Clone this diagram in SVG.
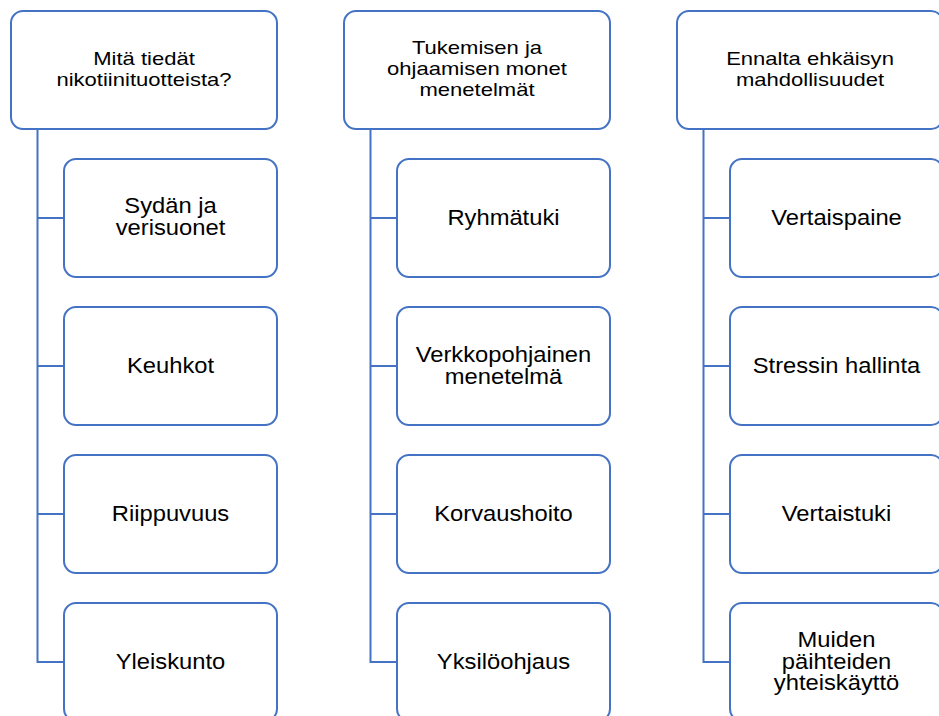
<svg xmlns="http://www.w3.org/2000/svg" width="939" height="716" viewBox="0 0 939 716">
<style>
.box{fill:#fff;stroke:#4472C4;stroke-width:2}
.conn{fill:none;stroke:#4472C4;stroke-width:2}
.h{font-family:"Liberation Sans",Arial,sans-serif;font-size:19px;fill:#000;text-anchor:middle}
.c{font-family:"Liberation Sans",Arial,sans-serif;font-size:22px;fill:#000;text-anchor:middle}
</style>
<rect width="939" height="716" fill="#fff"/>
<g id="connectors">
<path class="conn" d="M37.5,129V662H64M37.5,218H64M37.5,366H64M37.5,514H64"/>
<path class="conn" d="M370.5,129V662H397M370.5,218H397M370.5,366H397M370.5,514H397"/>
<path class="conn" d="M703.5,129V662H730M703.5,218H730M703.5,366H730M703.5,514H730"/>
</g>
<g id="h1"><rect class="box" x="11" y="11" width="266" height="118" rx="12"/>
<text class="h" transform="translate(144,0) scale(1.16,1)"><tspan x="0" y="65">Mitä tiedät</tspan><tspan x="0" y="86">nikotiinituotteista?</tspan></text></g>
<g id="h2"><rect class="box" x="344" y="11" width="266" height="118" rx="12"/>
<text class="h" transform="translate(477,0) scale(1.16,1)"><tspan x="0" y="54">Tukemisen ja</tspan><tspan x="0" y="75">ohjaamisen monet</tspan><tspan x="0" y="96">menetelmät</tspan></text></g>
<g id="h3"><rect class="box" x="677" y="11" width="266" height="118" rx="12"/>
<text class="h" transform="translate(810,0) scale(1.16,1)"><tspan x="0" y="65">Ennalta ehkäisyn</tspan><tspan x="0" y="86">mahdollisuudet</tspan></text></g>

<g id="c1a"><rect class="box" x="64" y="159" width="213" height="118" rx="12"/>
<text class="c" transform="translate(170.5,0) scale(1.08,1)"><tspan x="0" y="213">Sydän ja</tspan><tspan x="0" y="235">verisuonet</tspan></text></g>
<g id="c1b"><rect class="box" x="64" y="307" width="213" height="118" rx="12"/>
<text class="c" transform="translate(170.5,0) scale(1.08,1)" x="0" y="373">Keuhkot</text></g>
<g id="c1c"><rect class="box" x="64" y="455" width="213" height="118" rx="12"/>
<text class="c" transform="translate(170.5,0) scale(1.08,1)" x="0" y="521">Riippuvuus</text></g>
<g id="c1d"><rect class="box" x="64" y="603" width="213" height="118" rx="12"/>
<text class="c" transform="translate(170.5,0) scale(1.08,1)" x="0" y="669">Yleiskunto</text></g>

<g id="c2a"><rect class="box" x="397" y="159" width="213" height="118" rx="12"/>
<text class="c" transform="translate(503.5,0) scale(1.08,1)" x="0" y="225">Ryhmätuki</text></g>
<g id="c2b"><rect class="box" x="397" y="307" width="213" height="118" rx="12"/>
<text class="c" transform="translate(503.5,0) scale(1.08,1)"><tspan x="0" y="362">Verkkopohjainen</tspan><tspan x="0" y="384">menetelmä</tspan></text></g>
<g id="c2c"><rect class="box" x="397" y="455" width="213" height="118" rx="12"/>
<text class="c" transform="translate(503.5,0) scale(1.08,1)" x="0" y="521">Korvaushoito</text></g>
<g id="c2d"><rect class="box" x="397" y="603" width="213" height="118" rx="12"/>
<text class="c" transform="translate(503.5,0) scale(1.08,1)" x="0" y="669">Yksilöohjaus</text></g>

<g id="c3a"><rect class="box" x="730" y="159" width="213" height="118" rx="12"/>
<text class="c" transform="translate(836.5,0) scale(1.08,1)" x="0" y="225">Vertaispaine</text></g>
<g id="c3b"><rect class="box" x="730" y="307" width="213" height="118" rx="12"/>
<text class="c" transform="translate(836.5,0) scale(1.08,1)" x="0" y="373">Stressin hallinta</text></g>
<g id="c3c"><rect class="box" x="730" y="455" width="213" height="118" rx="12"/>
<text class="c" transform="translate(836.5,0) scale(1.08,1)" x="0" y="521">Vertaistuki</text></g>
<g id="c3d"><rect class="box" x="730" y="603" width="213" height="118" rx="12"/>
<text class="c" transform="translate(836.5,0) scale(1.08,1)"><tspan x="0" y="647">Muiden</tspan><tspan x="0" y="669">päihteiden</tspan><tspan x="0" y="690">yhteiskäyttö</tspan></text></g>
</svg>
